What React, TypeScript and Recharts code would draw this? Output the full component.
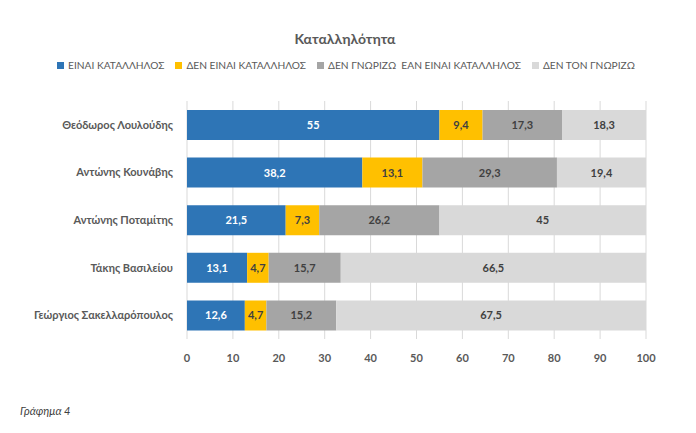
import React from 'react';
import { BarChart, Bar, XAxis, YAxis, CartesianGrid, LabelList, Legend } from 'recharts';

const candidates = [
  'Θεόδωρος Λουλούδης',
  'Αντώνης Κουνάβης',
  'Αντώνης  Ποταμίτης',
  'Τάκης Βασιλείου',
  'Γεώργιος Σακελλαρόπουλος'
];
const suitable = [55, 38.2, 21.5, 13.1, 12.6];
const notSuitable = [9.4, 13.1, 7.3, 4.7, 4.7];
const dontKnowIf = [17.3, 29.3, 26.2, 15.7, 15.2];
const dontKnowHim = [18.3, 19.4, 45, 66.5, 67.5];
const xTicks = [0, 10, 20, 30, 40, 50, 60, 70, 80, 90, 100];

const series = [
  { key: 'suitable', name: 'ΕΙΝΑΙ ΚΑΤΑΛΛΗΛΟΣ', color: '#2E75B6', text: '#FFFFFF' },
  { key: 'notSuitable', name: 'ΔΕΝ ΕΙΝΑΙ ΚΑΤΑΛΛΗΛΟΣ', color: '#FFC000', text: '#404040' },
  { key: 'dontKnowIf', name: 'ΔΕΝ ΓΝΩΡΙΖΩ  ΕΑΝ ΕΙΝΑΙ ΚΑΤΑΛΛΗΛΟΣ', color: '#A5A5A5', text: '#404040' },
  { key: 'dontKnowHim', name: 'ΔΕΝ ΤΟΝ ΓΝΩΡΙΖΩ', color: '#D9D9D9', text: '#404040' }
];

const data = candidates.map((name, i) => ({
  name,
  suitable: suitable[i],
  notSuitable: notSuitable[i],
  dontKnowIf: dontKnowIf[i],
  dontKnowHim: dontKnowHim[i]
}));

const font = 'Lato, "Open Sans", sans-serif';
const fmt = (v: any) => String(v).replace('.', ',');

const renderLegend = () => (
  <div style={{ display: 'flex', justifyContent: 'center', gap: 11, fontFamily: font, fontSize: 10.2, color: '#595959' }}>
    {series.map(s => (
      <span key={s.key} style={{ display: 'flex', alignItems: 'center', whiteSpace: 'pre' }}>
        <span style={{ width: 7, height: 7, background: s.color, display: 'inline-block', marginRight: 4 }} />
        {s.name}
      </span>
    ))}
  </div>
);

export default function App() {
  return (
    <div style={{ position: 'absolute', left: 0, top: 0, width: 696, height: 433, background: '#fff', fontFamily: font }}>
      <div style={{ position: 'absolute', top: 30, left: 0, width: 690, textAlign: 'center', fontSize: 14, fontWeight: 700, color: '#595959' }}>
        Καταλληλότητα
      </div>
      <BarChart
        width={696}
        height={433}
        data={data}
        layout="vertical"
        margin={{ top: 89, right: 50, bottom: 64, left: 0 }}
        barSize={30}
      >
        <CartesianGrid horizontal={false} stroke="#D9D9D9" />
        <XAxis
          type="number"
          domain={[0, 100]}
          ticks={xTicks}
          axisLine={false}
          tickLine={false}
          tickMargin={9}
          tick={{ fill: '#595959', fontSize: 11, fontWeight: 700, fontFamily: font }}
        />
        <YAxis
          type="category"
          dataKey="name"
          width={187}
          axisLine={false}
          tickLine={false}
          tickMargin={8}
          tick={{ fill: '#595959', fontSize: 11, fontWeight: 700, fontFamily: font }}
        />
        <Legend verticalAlign="top" wrapperStyle={{ top: 59, left: 0, width: 692 }} content={renderLegend} />
        {series.map(s => (
          <Bar key={s.key} dataKey={s.key} name={s.name} stackId="a" fill={s.color} isAnimationActive={false}>
            <LabelList
              dataKey={s.key}
              position="center"
              formatter={fmt}
              style={{ fill: s.text, fontSize: 11, fontWeight: 700, fontFamily: font }}
            />
          </Bar>
        ))}
      </BarChart>
      <div style={{ position: 'absolute', left: 20, top: 404, fontSize: 11, fontStyle: 'italic', color: '#404040' }}>
        Γράφημα 4
      </div>
    </div>
  );
}
